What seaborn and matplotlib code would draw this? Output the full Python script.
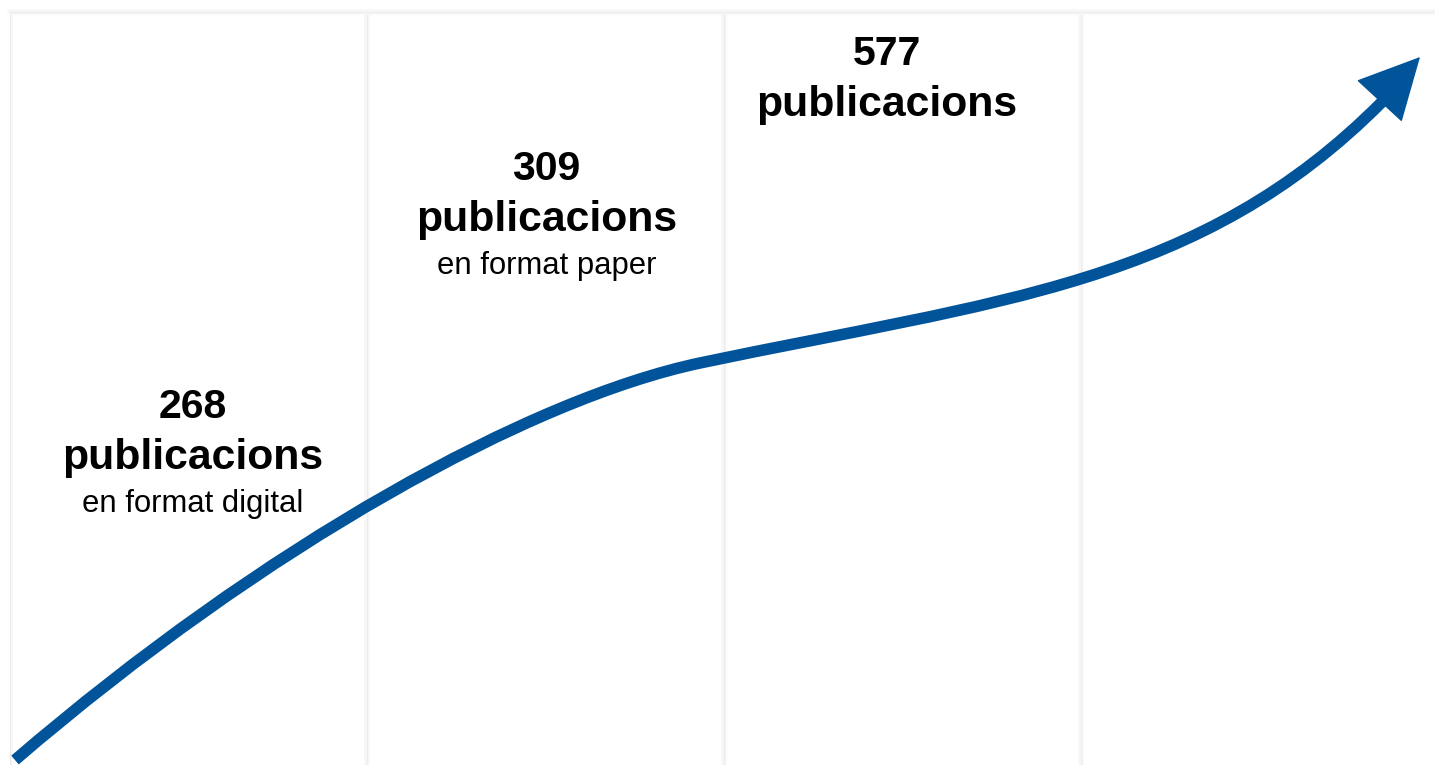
import matplotlib.pyplot as plt
import seaborn as sns
from matplotlib.path import Path
from matplotlib.patches import PathPatch

sns.set_style("white")
plt.rcParams["font.family"] = ["Liberation Sans", "DejaVu Sans"]

# Etiquetes de cada columna
totals = [268, 309, 577]
units = ["publicacions", "publicacions", "publicacions"]
details = ["en format digital", "en format paper", ""]
label_x = [0.513, 1.503, 2.455]
label_y = [0.4605, 0.7765, 0.9292]

# Fletxa: punts de control de dues corbes de Bézier (columnes 0-4, alçada 0-1)
curve_x = [0.014, 0.714, 1.457, 1.933, 2.773, 3.333, 3.843]
curve_y = [0.0066, 0.2922, 0.4861, 0.5339, 0.6175, 0.6375, 0.8805]
head_from = (3.7815, 0.8539)
head_tip = (3.9496, 0.9402)

BLUE = "#01549a"
SHADOW = "#ececec"

fig = plt.figure(figsize=(14.35, 7.65), dpi=100)
ax = fig.add_axes([10 / 1435, 0, 1428 / 1435, 753 / 765])
ax.set_xlim(0, 4)
ax.set_ylim(0, 1)
ax.axis("off")

# vores de les targetes
for x in [0, 1, 2, 3]:
    ax.axvline(x, color="#f7f7f7", lw=4, zorder=0)
    ax.axvline(x, color=SHADOW, lw=0.8, zorder=0)
ax.axhline(1, color="#f7f7f7", lw=4, zorder=0, clip_on=False)
ax.axhline(1, color=SHADOW, lw=0.8, zorder=0, clip_on=False)

codes = [Path.MOVETO] + [Path.CURVE4] * (len(curve_x) - 1)
path = Path(list(zip(curve_x, curve_y)), codes)
ax.add_patch(PathPatch(path, facecolor="none", edgecolor=BLUE, lw=8.3,
                       capstyle="butt", zorder=3))
ax.annotate("", xy=head_tip, xytext=head_from,
            arrowprops=dict(arrowstyle="-|>,head_length=4.15,head_width=2.1",
                            color=BLUE, lw=1, shrinkA=0, shrinkB=0),
            zorder=4)

for x, y, n, u, d in zip(label_x, label_y, totals, units, details):
    ax.text(x, y, str(n), ha="center", va="baseline", fontsize=29.5,
            fontweight="bold", color="black")
    ax.text(x, y - 0.0678, u, ha="center", va="baseline", fontsize=30.8,
            fontweight="bold", color="black")
    if d:
        ax.text(x, y - 0.1241, d, ha="center", va="baseline", fontsize=22.3,
                color="black")

fig.savefig("out.png", dpi=100, facecolor="white")
